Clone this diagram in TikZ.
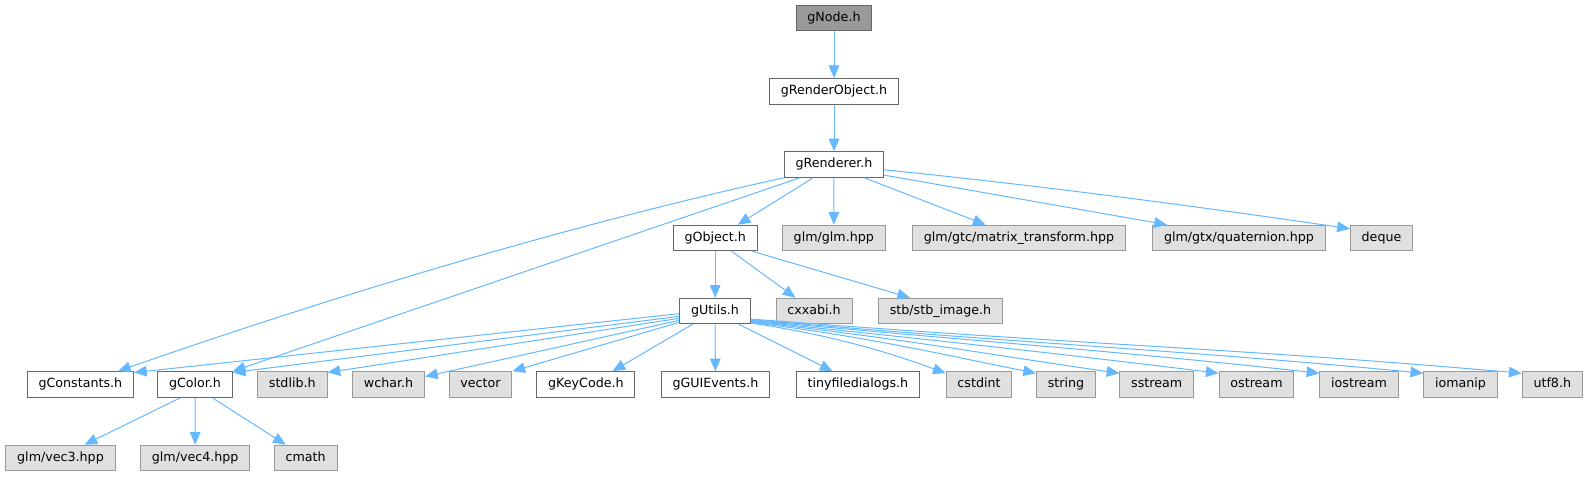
\documentclass[tikz,border=0pt]{standalone}
\usepackage{fontspec}
\setmainfont{DejaVu Sans}
\usetikzlibrary{arrows.meta}
\definecolor{edgeblue}{HTML}{63B8FF}
\definecolor{nodeline}{HTML}{666666}
\definecolor{sysline}{HTML}{999999}
\definecolor{sysfill}{HTML}{E0E0E0}
\definecolor{rootfill}{HTML}{999999}

\begin{document}
\begin{tikzpicture}[x=0.75pt,y=-0.75pt,
box/.style={draw=nodeline,fill=white,line width=0.75pt,minimum height=19.2pt,inner xsep=8.5pt,inner ysep=0pt,text height=7.2pt,text depth=2.2pt,font=\fontsize{9.5}{11}\selectfont},
sys/.style={box,draw=sysline,fill=sysfill},
root/.style={box,fill=rootfill},
dep/.style={draw=edgeblue,line width=0.75pt,-{Triangle[length=9.5pt,width=8pt]}}]
\useasboundingbox (0,0) rectangle (1588,476);
% include chain
\node[root] (gnode) at (834,17.8) {gNode.h};
\node[box] (renderobj) at (834,91.3) {gRenderObject.h};
\node[box] (renderer) at (834,164.5) {gRenderer.h};
% what gRenderer.h pulls in
\node[box] (object) at (715.2,238) {gObject.h};
\node[sys] (glm) at (833.8,238) {glm/glm.hpp};
\node[sys] (mattrans) at (1019,238) {glm/gtc/matrix\_transform.hpp};
\node[sys] (quat) at (1239,238) {glm/gtx/quaternion.hpp};
\node[sys] (deque) at (1381.5,238) {deque};
% gObject.h
\node[box] (utils) at (715,311) {gUtils.h};
\node[sys] (cxxabi) at (814,311) {cxxabi.h};
\node[sys] (stbimage) at (940.5,311) {stb/stb\_image.h};
% gUtils.h row
\node[box] (constants) at (80.4,384.5) {gConstants.h};
\node[box] (color) at (195,384.5) {gColor.h};
\node[sys] (stdlib) at (292.3,384.5) {stdlib.h};
\node[sys] (wchar) at (388.6,384.5) {wchar.h};
\node[sys] (vector) at (480.5,384.5) {vector};
\node[box] (keycode) at (585.9,384.5) {gKeyCode.h};
\node[box] (guievents) at (715.4,384.5) {gGUIEvents.h};
\node[box] (tinyfd) at (857.9,384.5) {tinyfiledialogs.h};
\foreach \n/\x in {cstdint/979,string/1066,sstream/1156.7,ostream/1256.5,iostream/1359,iomanip/1460.5}
   \node[sys] (\n) at (\x,384.5) {\n};
\node[sys] (utf8) at (1552.3,384.5) {utf8.h};
% gColor.h
\node[sys] (vecthree) at (60.5,458) {glm/vec3.hpp};
\node[sys] (vecfour) at (195.2,458) {glm/vec4.hpp};
\node[sys] (cmath) at (305.7,458) {cmath};

\draw[dep] (gnode) -- (renderobj);
\draw[dep] (renderobj) -- (renderer);
\draw[dep] (renderer.south west) .. controls +(-220,48) and +(200,-70) .. ([xshift=-12pt]constants.north east);
\draw[dep] ([xshift=12pt]renderer.south west) -- (color.north east);
\draw[dep] ([xshift=22pt]renderer.south west) -- ([xshift=-15pt]object.north east);
\draw[dep] (renderer) -- (glm);
\draw[dep] ([xshift=-15pt]renderer.south east) -- ([xshift=-25pt]mattrans.north);
\draw[dep] ([yshift=2pt]renderer.south east) -- ([xshift=11pt]quat.north west);
\draw[dep] ([yshift=-4pt]renderer.east) .. controls +(150,15) and +(-150,-22) .. ([yshift=-3pt]deque.north west);
\draw[dep] (object) -- (object |- utils.north);
\draw[dep] ([xshift=12.4pt]object.south) -- ([xshift=15pt]cxxabi.north west);
\draw[dep] ([xshift=-4pt]object.south east) -- ([xshift=24pt]stbimage.north west);
\draw[dep] ([yshift=-2pt]utils.west) -- ([yshift=-1pt]constants.north east);
\draw[dep] ([yshift=-4pt]utils.west) -- ([yshift=-1pt]color.north east);
\draw[dep] ([yshift=-5.5pt]utils.west) -- ([yshift=-1pt]stdlib.north east);
\draw[dep] ([yshift=-7pt]utils.west) -- ([yshift=-4pt]wchar.north east);
\draw[dep] ([yshift=-8.5pt]utils.west) -- (vector.north east);
\draw[dep] ([xshift=10pt]utils.south west) -- ([xshift=20pt]keycode.north);
\draw[dep] (utils) -- (guievents);
\draw[dep] ([xshift=-9pt]utils.south east) -- ([xshift=-19pt]tinyfd.north);
\foreach \t/\s/\a/\b/\c/\d in {cstdint/-9/80/12/-60/-22,string/-8.5/120/15/-100/-20,
   sstream/-8/160/18/-140/-20,ostream/-7.5/210/22/-180/-22,iostream/-7/260/24/-210/-23,
   iomanip/-6.5/300/26/-250/-24,utf8/-6/350/27/-300/-26}
   \draw[dep] ([yshift=\s pt]utils.east) .. controls +(\a,\b) and +(\c,\d) .. ([yshift=-1.5pt]\t.north west);
\draw[dep] ([xshift=-11pt]color.south) -- ([xshift=18pt]vecthree.north);
\draw[dep] (color) -- (vecfour);
\draw[dep] ([xshift=13pt]color.south) -- ([xshift=-15pt]cmath.north);
\end{tikzpicture}
\end{document}
